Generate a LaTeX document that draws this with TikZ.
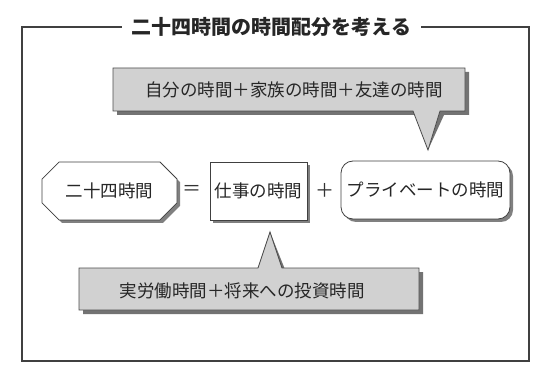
\documentclass[tikz,border=0pt]{standalone}
\usepackage{fontspec}
\setmainfont{Noto Sans CJK JP}
\usetikzlibrary{shapes.misc,shadows}
\tikzset{
  framecol/.style={draw=black!75, line width=1.3pt},
  callbody/.style={fill=black!18, draw=black!70, line width=0.8pt},
  callshade/.style={fill=black!55},
  txt/.style={font=\fontsize{17.5}{20}\selectfont, inner sep=0pt, text=black!85},
  boxbase/.style={draw=black!75, line width=0.8pt, fill=white, txt,
    minimum height=58pt,
    drop shadow={shadow xshift=3pt, shadow yshift=-3pt, fill=black!50, opacity=1}},
  sym/.style={font=\fontsize{19}{22}\selectfont, inner sep=0pt, text=black!80},
}
\begin{document}
\begin{tikzpicture}[x=1pt,y=1pt]
\useasboundingbox (0,0) rectangle (549,378);
% frame with title
\node[font=\fontsize{20}{24}\selectfont\bfseries, inner xsep=10pt, inner ysep=0pt, text=black!85] (title) at (271.5,351) {二十四時間の時間配分を考える};
\coordinate (ftl) at (22,351);
\coordinate (ftr) at (529,351);
\coordinate (fbr) at (529,17);
\coordinate (fbl) at (22,17);
\draw[framecol] (title.west |- ftl) -- (ftl) -- (fbl) -- (fbr) -- (ftr) -- (title.east |- ftr);

% top callout
\coordinate (t1) at (428,228);
\path[callshade, shift={(4,-4)}] (113,310) -- (465,310) -- (465,267) -- (440,267) -- (t1) -- (413,267) -- (113,267) -- cycle;
\path[callbody] (113,310) -- (465,310) -- (465,267) -- (440,267) -- (t1) -- (413,267) -- (113,267) -- cycle;
\node[txt] (c1) at (294,288) {自分の時間＋家族の時間＋友達の時間};

% bottom callout
\coordinate (t2) at (270,146);
\path[callshade, shift={(4,-4)}] (79,110) -- (258,110) -- (t2) -- (282,110) -- (419,110) -- (419,68) -- (79,68) -- cycle;
\path[callbody] (79,110) -- (258,110) -- (t2) -- (282,110) -- (419,110) -- (419,68) -- (79,68) -- cycle;
\node[txt] (c2) at (242,87) {実労働時間＋将来への投資時間};

% middle row
\node[boxbase, chamfered rectangle, chamfered rectangle xsep=9pt, chamfered rectangle ysep=9pt, minimum width=135pt] (a) at (109.5,187) {二十四時間};
\node[sym] (eq) at (192,188) {＝};
\node[boxbase, rectangle, minimum width=97pt] (b) at (258.5,187) {仕事の時間};
\node[sym] (pl) at (325,188) {＋};
\node[boxbase, rectangle, rounded corners=12pt, minimum width=169pt] (c) at (425.5,188) {プライベートの時間};
\end{tikzpicture}
\end{document}
